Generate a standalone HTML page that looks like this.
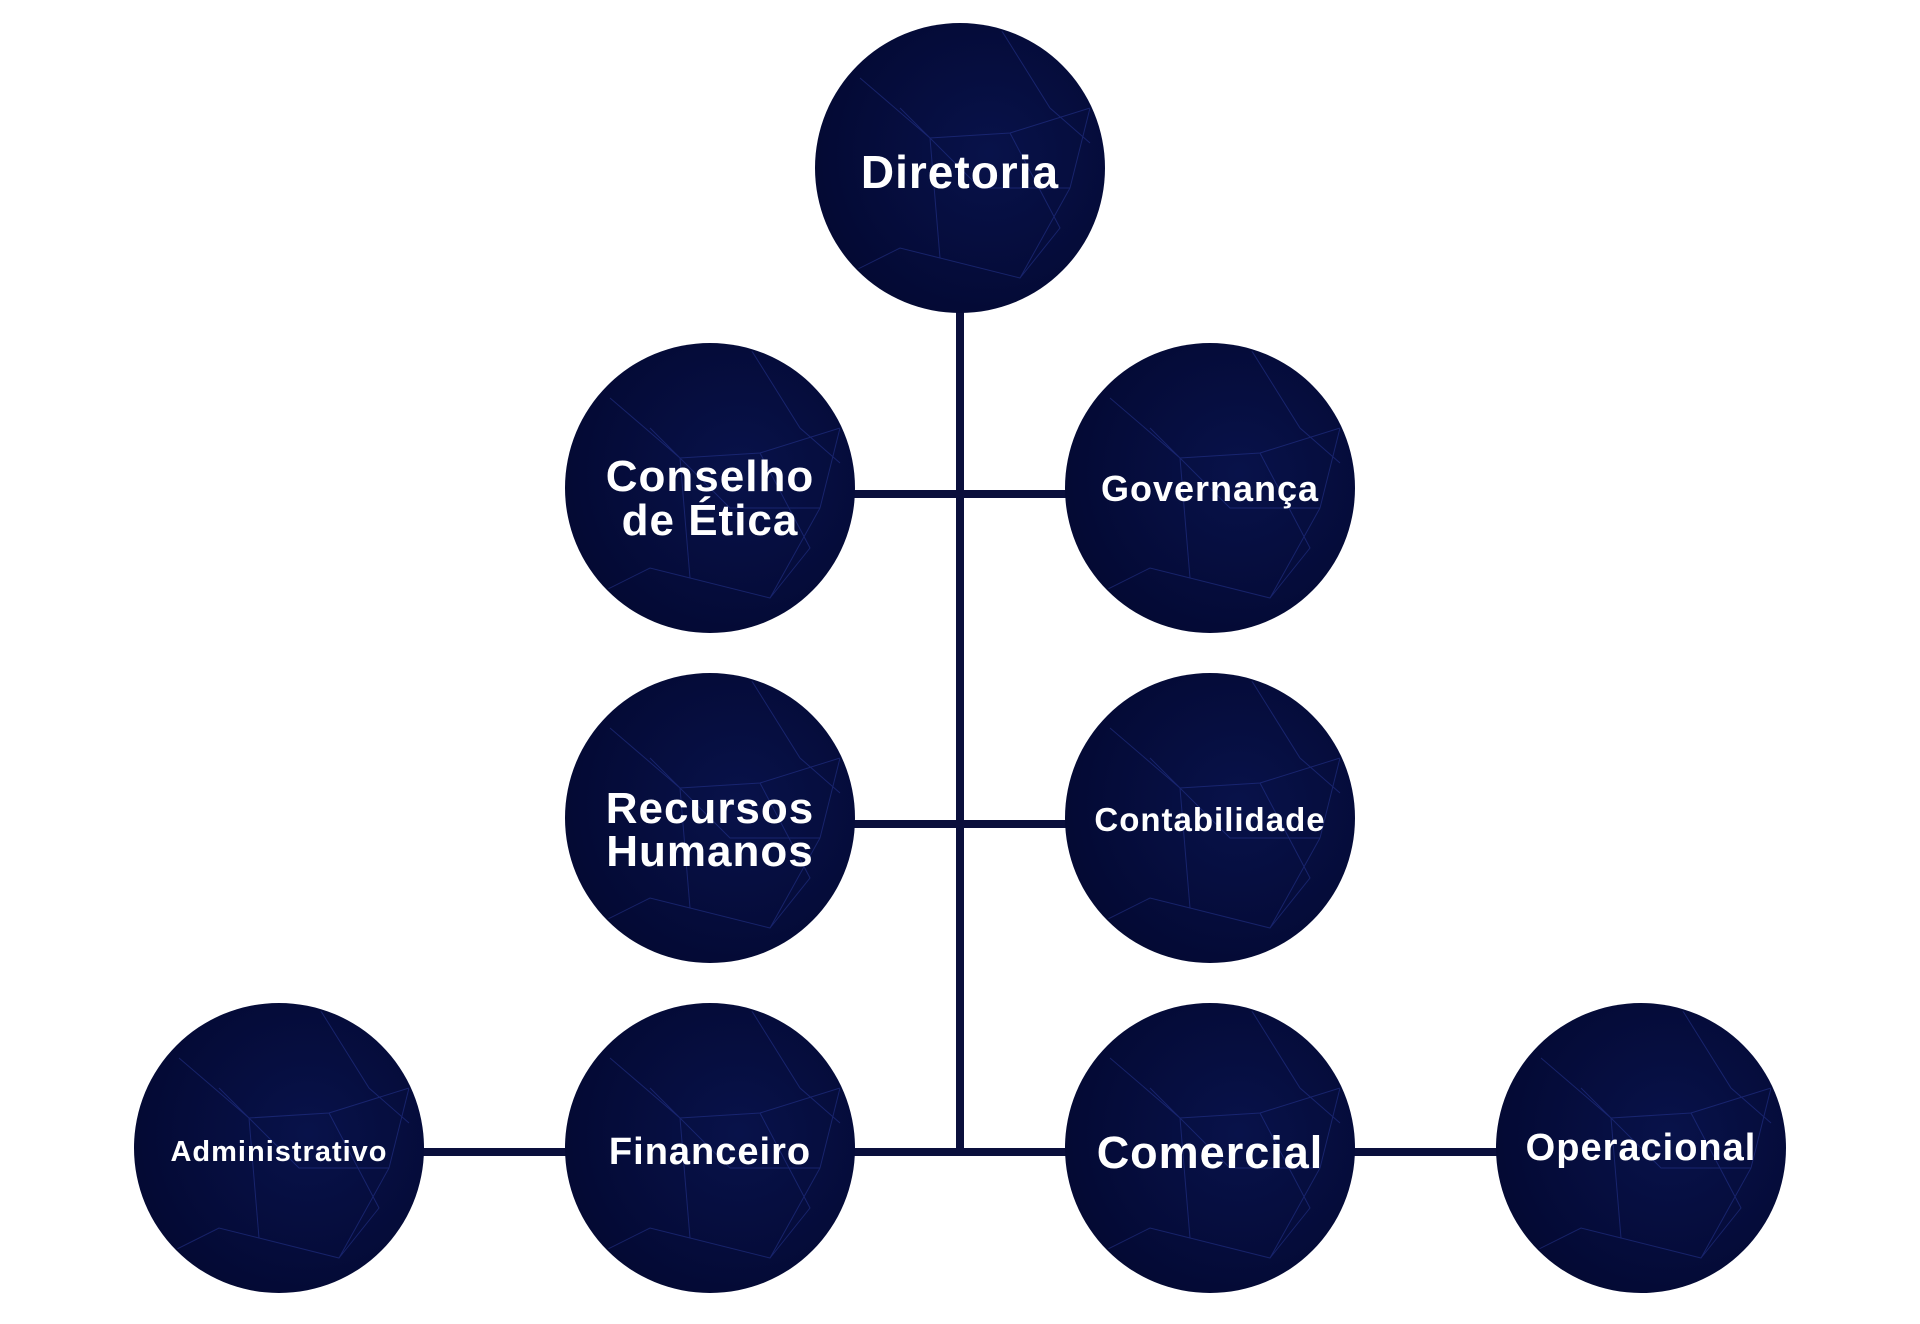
<!DOCTYPE html>
<html><head><meta charset="utf-8"><style>
html,body{margin:0;padding:0;background:#fff;}
svg{display:block}
text{font-family:"Liberation Sans",sans-serif;font-weight:bold;fill:#fff;text-anchor:middle;letter-spacing:1px;}
</style></head><body>
<svg width="1920" height="1324" viewBox="0 0 1920 1324" xmlns="http://www.w3.org/2000/svg">
<defs>
<radialGradient id="g" cx="0.6" cy="0.45" r="0.7">
<stop offset="0" stop-color="#08124a"/>
<stop offset="1" stop-color="#030830"/>
</radialGradient>
<clipPath id="c"><circle cx="0" cy="0" r="143"/></clipPath>
<g id="node">
<circle cx="0" cy="0" r="145" fill="url(#g)"/>
<g clip-path="url(#c)" stroke="#2a3a9a" stroke-width="1" fill="none" opacity="0.5">
<path d="M-100,-90 L-30,-30 L50,-35 L130,-60 M-30,-30 L-20,90 L60,110 L110,20 L130,-60 M50,-35 L100,60 L60,110 M-120,110 L-60,80 L-20,90 M40,-140 L90,-60 L130,-25 M-60,-60 L20,20 L110,20"/>
</g>
</g>
</defs>
<g stroke="#0a0f3c" stroke-width="8">
<line x1="960" y1="300" x2="960" y2="1155"/>
<line x1="710" y1="494" x2="1210" y2="494"/>
<line x1="710" y1="824" x2="1210" y2="824"/>
<line x1="279" y1="1152" x2="1641" y2="1152"/>
</g>
<use href="#node" x="960" y="168"/>
<use href="#node" x="710" y="488"/>
<use href="#node" x="1210" y="488"/>
<use href="#node" x="710" y="818"/>
<use href="#node" x="1210" y="818"/>
<use href="#node" x="279" y="1148"/>
<use href="#node" x="710" y="1148"/>
<use href="#node" x="1210" y="1148"/>
<use href="#node" x="1641" y="1148"/>
<text x="960" y="188" font-size="46">Diretoria</text>
<text x="710" y="491" font-size="44">Conselho</text>
<text x="710" y="535" font-size="44">de Ética</text>
<text x="1210" y="501" font-size="36">Governança</text>
<text x="710" y="823" font-size="44">Recursos</text>
<text x="710" y="866" font-size="44">Humanos</text>
<text x="1210" y="831" font-size="33">Contabilidade</text>
<text x="279" y="1161" font-size="29">Administrativo</text>
<text x="710" y="1164" font-size="38">Financeiro</text>
<text x="1210" y="1168" font-size="45">Comercial</text>
<text x="1641" y="1160" font-size="38">Operacional</text>
</svg>
</body></html>
